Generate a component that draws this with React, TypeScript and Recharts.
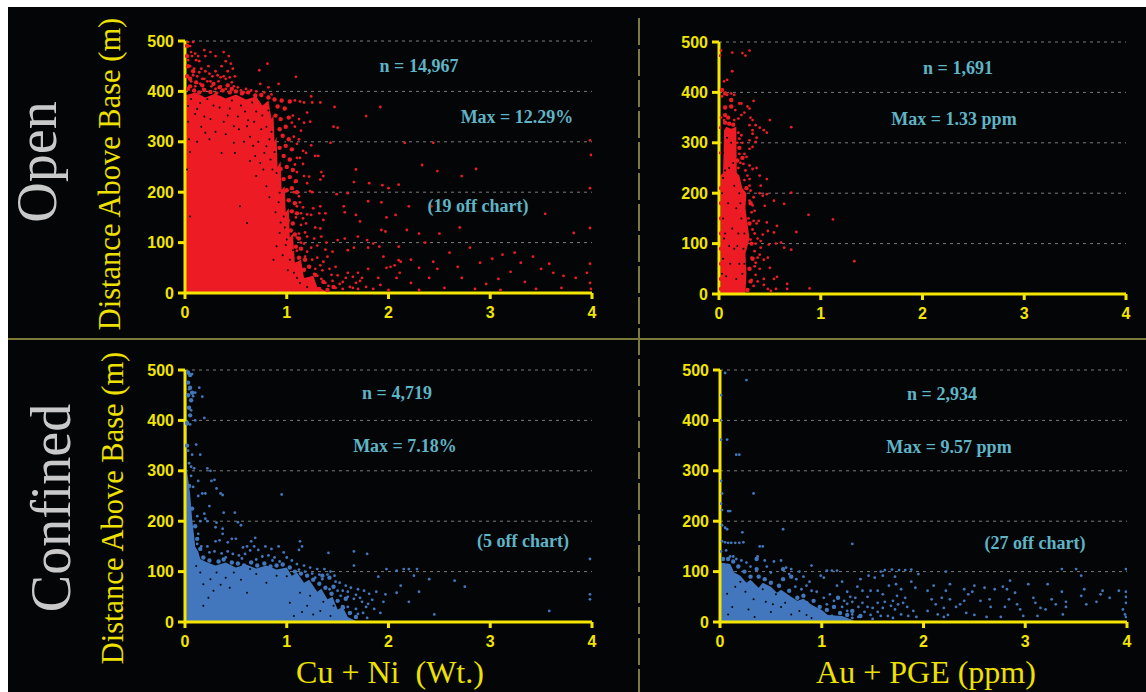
import { ComposedChart, Area, Scatter, XAxis, YAxis, CartesianGrid } from 'recharts';

type Pt = [number, number];

const xTicks = [0, 1, 2, 3, 4];
const yTicks = [0, 100, 200, 300, 400, 500];

// Solid part of each cloud (rough outline of the saturated area)
const openCuNiCore: Pt[] = [[0,392],[0.1,398],[0.2,388],[0.3,396],[0.4,386],[0.5,394],[0.6,384],[0.7,390],[0.76,372],[0.82,382],[0.85,345],[0.87,352],[0.88,300],[0.9,310],[0.91,250],[0.94,262],[0.95,205],[0.98,212],[0.99,160],[1.02,168],[1.03,110],[1.06,118],[1.08,60],[1.14,66],[1.17,30],[1.26,34],[1.3,12],[1.42,0]];
const openAuCore: Pt[] = [[0.015,235],[0.04,240],[0.05,325],[0.07,332],[0.12,328],[0.17,332],[0.175,240],[0.2,235],[0.23,210],[0.27,200],[0.26,170],[0.28,140],[0.3,110],[0.26,80],[0.27,40],[0.26,0]];
const confCuNiCore: Pt[] = [[0,500],[0.01,500],[0.02,300],[0.05,255],[0.07,205],[0.09,170],[0.1,150],[0.13,140],[0.15,125],[0.22,118],[0.3,112],[0.4,118],[0.5,108],[0.6,114],[0.7,106],[0.8,112],[0.9,104],[1,108],[1.05,92],[1.1,98],[1.17,78],[1.22,84],[1.3,60],[1.34,66],[1.4,45],[1.45,50],[1.5,25],[1.55,30],[1.6,10],[1.7,0]];
const confAuCore: Pt[] = [[0,118],[0.1,115],[0.14,98],[0.2,92],[0.26,78],[0.3,84],[0.38,68],[0.42,78],[0.5,70],[0.56,58],[0.6,64],[0.7,50],[0.76,42],[0.82,46],[0.9,34],[0.96,28],[1,24],[1.06,14],[1.2,12],[1.35,0]];

// Clumps where the dots nearly merge
const openCuNiDense: Pt[] = [
  [0.02,490],[0.02,470],[0.03,450],[0.02,430],[0.05,410],[0.03,405],[0.09,402],[0.14,398],[0.19,403],[0.25,399],[0.31,396],[0.37,402],[0.44,398],[0.5,400],[0.56,396],[0.62,398],[0.69,392],[0.75,393],[0.82,388],[0.88,384],[0.95,382],[1.03,380],
  [0.08,440],[0.05,425],[0.11,418],[0.17,412],[0.28,415],[0.34,408],[0.42,412],[0.46,405],
  [0.91,370],[0.98,366],[0.89,352],[0.94,345],[1.02,348],[0.93,325],[0.99,330],
  [0.96,312],[1.02,305],[0.93,288],[0.99,292],[1.05,285],[0.97,272],[1.03,265],
  [0.94,246],[1,250],[1.06,244],[0.97,226],[1.03,230],[1.09,222],[1,204],[1.05,208],[1.1,200],
  [1.02,184],[1.08,178],[1.05,162],[1.1,158],[1.01,144],[1.06,138],[1.04,124],[1.08,116],[1.12,108],
  [1.09,92],[1.14,88],[1.12,70],[1.18,66],[1.17,46],[1.22,52],[1.23,24],[1.28,36],[1.24,10],[1.32,8],[1.4,6],[1.36,22],[1.46,12],
];
const openCuNiGaps: Pt[] = [
  [0.33,394],[0.15,377],[0.34,368],[0.62,343],[0.48,331],[0.03,371],[0.04,305],[0.02,245],[0.49,278],[0.36,278],[0.2,318],[0.48,298],[0.61,331],[0.64,262],[0.69,272],[0.74,258],[0.77,245],[0.7,232],[0.61,139],[0.54,172],[0.05,152],[0.8,291],[0.84,265],[0.8,212],[0.9,238],[0.93,199],[0.97,152],[1,106],[1.03,66],[1.07,40],[0.93,119],[0.9,93],[0.87,66],[1.13,20],[0.1,355],[0.25,345],[0.42,352],[0.55,372],[0.7,360],[0.75,325],[0.58,300],[0.3,320],[0.12,300],[0.72,300],[0.85,320],[0.88,280],[0.95,260],[1,225],[0.92,180],[0.98,130],[0.22,385],[0.46,382],[0.66,378],[0.82,362],[0.9,342],[0.03,340],[0.05,280],[0.64,310],
  [0.06,385],[0.12,365],[0.19,350],[0.28,372],[0.38,340],[0.44,366],[0.52,350],[0.59,360],[0.68,340],[0.76,352],[0.8,330],[0.86,368],[0.16,330],[0.24,305],[0.4,315],[0.53,325],[0.67,292],[0.83,305],[0.78,278],[0.86,245],[0.83,190],[0.89,160],[0.94,140],[0.99,95],[0.96,75],[1.01,45],[1.1,30],[1.2,12],[1.06,85],[1.02,190],[0.97,300],
];
const openCuNiDots: Pt[] = [
  [0.05,490],[0.08,498],[0.07,470],[0.1,475],[0.14,460],[0.19,482],[0.2,470],[0.25,478],[0.3,470],[0.38,478],[0.43,470],[0.45,455],[0.4,460],[0.42,440],[0.47,445],[0.49,430],[0.05,450],[0.09,445],[0.12,430],[0.16,445],[0.2,440],[0.23,450],[0.27,430],[0.3,440],[0.33,420],[0.36,450],[0.38,430],[0.4,425],[0.46,418],[0.48,410],[0.06,420],[0.1,410],[0.15,415],[0.18,405],[0.22,420],[0.26,410],[0.3,405],[0.35,410],[0.4,405],[0.13,470],[0.17,425],[0.24,435],[0.52,408],[0.55,402],[0.6,405],[0.58,398],[0.73,442],[0.81,455],[0.74,415],[0.82,408],[0.92,415],[1.09,429],
  [0.03,498],[0.06,478],[0.11,462],[0.03,462],[0.08,432],[0.14,438],[0.19,425],[0.25,420],[0.32,432],[0.35,428],[0.44,428],[0.65,402],[0.7,400],[0.78,398],[0.85,394],
  [1.08,382],[1.13,380],[1.17,378],[1.24,390],[1.25,378],[1.2,358],[1.23,340],[1.17,338],[1.33,378],[1.47,369],[1.46,330],[1.5,328],[1.78,351],[1.43,298],[1.24,293],[1.12,345],[1.06,352],[1.08,330],[1.14,322],[1.07,310],[1.1,296],[1.16,282],[1.19,278],[1.13,268],[1.08,255],[1.16,256],[1.28,272],[1.31,272],[1.1,240],[1.17,232],[1.22,231],[1.34,240],[1.36,232],[1.33,225],[1.2,218],[1.08,220],[1.23,202],[1.25,200],[1.49,196],[1.6,198],[1.12,192],[1.1,172],[1.16,170],[1.26,168],[1.33,172],[1.38,158],[1.32,158],[1.09,150],[1.14,158],[1.2,156],[1.24,155],[1.36,145],[1.14,135],[1.19,138],[1.28,130],[1.33,128],[1.12,118],[1.2,112],[1.27,108],[1.34,112],[1.39,100],[1.17,98],[1.24,90],[1.3,94],[1.38,86],[1.45,82],[1.5,105],[1.57,108],[1.6,85],[1.66,90],[1.7,112],[1.8,90],[1.79,105],[1.85,98],[1.91,92],[1.2,82],[1.3,70],[1.36,62],[1.42,48],[1.48,52],[1.5,35],[1.35,45],[1.3,34],[1.45,24],[1.52,18],[1.58,30],[1.62,12],[1.68,20],[1.7,40],[1.74,30],[1.8,48],[1.78,12],[1.85,8],[1.92,16],[1.95,72],[1.98,50],[2.02,52],[2.06,55],[2.08,30],[2.12,62],[2.1,65],
  [1.14,100],[1.1,84],[1.18,72],[1.25,66],[1.22,52],[1.28,48],[1.33,55],[1.27,38],[1.34,28],[1.38,20],[1.44,36],[1.41,14],[1.48,10],[1.55,22],[1.6,40],[1.55,8],[1.65,32],[1.7,8],[1.72,24],[1.65,10],[1.4,72],[1.18,120],[1.1,110],[1.16,148],[1.13,180],[1.07,200],[1.1,268],[1.12,305],[1.05,338],
  [1.68,245],[1.66,220],[1.81,218],[1.94,214],[2,208],[1.8,182],[1.93,180],[1.56,172],[1.57,160],[1.68,155],[1.72,142],[1.98,150],[2.07,155],[1.93,125],[1.97,122],[2.16,298],[2.44,298],[1.92,369],[2.33,254],[2.48,242],[2.72,232],[2.86,246],[3.98,303],[3.99,274],[3.98,208],[3.54,157],[3.98,129],[3.82,119],[2.1,215],[2.2,172],[2.42,172],[2.18,125],[2.3,118],[2.7,130],[2.1,92],[2.36,100],[2.5,118],[2.22,66],[2.3,50],[2.11,40],[2.22,20],[2.4,30],[2.44,62],[2.48,48],[2.6,80],[2.68,52],[2.8,90],[2.72,30],[2.9,60],[3.02,68],[3.12,76],[3.24,80],[3.3,60],[3.42,72],[3.5,48],[3.58,58],[3.2,42],[3.08,28],[2.96,18],[3.34,22],[3.62,40],[3.72,34],[3.84,30],[3.95,40],[3.98,58],[3.98,20],[3.99,8],[3.7,10],[3.45,8],[3.1,6],[2.85,8],[2.55,10],[2.3,6],[2,6],[1.9,30],
];

const openAuDense: Pt[] = [
  [0.06,340],[0.1,338],[0.14,336],[0.06,355],[0.09,350],[0.06,370],[0.12,385],[0.12,372],[0.03,405],[0.06,398],[0.02,210],[0.02,180],[0.02,150],[0.02,120],[0.02,90],[0.02,60],[0.02,30],[0.02,10],[0.2,290],[0.18,265],[0.23,270],[0.27,210],[0.31,180],[0.3,140],[0.32,100],[0.33,70],[0.3,50],[0.31,25],[0.28,8],
];
const openAuGaps: Pt[] = [
  [0.04,280],[0.03,200],[0.04,150],[0.05,110],[0.04,70],[0.03,40],[0.06,120],[0.1,250],[0.14,260],[0.09,180],[0.13,130],[0.17,170],[0.19,120],[0.22,150],[0.2,60],[0.24,90],[0.17,30],[0.11,60],[0.07,35],[0.15,215],[0.06,245],[0.2,200],[0.23,40],[0.12,300],[0.08,310],[0.04,230],[0.25,120],[0.25,60],[0.1,95],[0.15,90],[0.21,180],[0.18,95],
];
const openAuDots: Pt[] = [
  [0.02,483],[0.01,473],[0.13,479],[0.23,478],[0.26,473],[0.3,483],[0.13,442],[0.05,422],[0.08,425],[0.03,392],[0.08,395],[0.12,398],[0.15,395],[0.34,383],[0.2,378],[0.22,378],[0.16,365],[0.28,372],[0.3,368],[0.25,360],[0.22,355],[0.19,348],[0.15,345],[0.05,345],[0.31,350],[0.33,345],[0.3,335],[0.33,325],[0.36,335],[0.4,330],[0.44,325],[0.47,320],[0.5,345],[0.71,331],[0.33,318],[0.37,310],[0.36,302],[0.3,305],[0.33,292],[0.3,288],[0.2,308],[0.23,300],[0.25,278],[0.27,272],[0.21,260],[0.3,255],[0.26,245],[0.33,248],[0.37,250],[0.4,235],[0.47,228],[0.3,228],[0.25,226],[0.41,215],[0.4,200],[0.43,195],[0.47,198],[0.71,201],[0.31,205],[0.34,192],[0.3,185],[0.33,176],[0.45,175],[0.54,185],[0.64,179],[0.32,162],[0.37,140],[0.39,145],[0.47,142],[0.29,150],[0.33,128],[0.43,118],[0.48,125],[0.54,122],[0.57,135],[0.31,108],[0.36,100],[0.41,105],[0.41,92],[0.49,98],[0.56,100],[0.61,102],[0.64,92],[0.71,88],[0.76,123],[0.88,157],[1.12,148],[1.33,65],[0.35,85],[0.4,78],[0.44,68],[0.48,72],[0.32,72],[0.36,62],[0.4,50],[0.36,38],[0.32,28],[0.34,16],[0.38,25],[0.44,30],[0.44,18],[0.5,52],[0.54,30],[0.57,34],[0.48,10],[0.51,6],[0.56,10],[0.67,20],[0.67,10],[0.89,11],[0.01,330],[0.02,350],[0.01,280],
  [0.19,320],[0.22,315],[0.18,300],[0.2,278],[0.24,258],[0.28,235],[0.19,250],[0.3,215],[0.35,165],[0.34,145],[0.35,120],[0.38,110],[0.38,72],[0.35,55],
];

const confCuNiDense: Pt[] = [
  [0.03,495],[0.05,490],[0.03,475],[0.05,465],[0.07,455],[0.03,450],[0.06,440],[0.04,425],[0.05,410],[0.02,395],[0.02,350],[0.04,270],[0.07,225],[0.1,190],[0.12,165],[0.15,145],[0.18,128],[0.24,122],[0.33,120],[0.38,124],[0.46,118],[0.52,116],[0.58,112],[0.65,118],[0.71,112],[0.78,116],[0.84,110],[0.9,112],[0.96,114],[1.03,108],[1.08,100],[1.14,96],[1.2,92],[1.26,84],[1.32,76],[1.38,68],[1.44,56],[1.5,42],[1.46,70],[1.55,30],[1.62,18],[1.58,46],[1.68,10],[1.35,92],[1.42,88],
];
const confCuNiGaps: Pt[] = [
  [0.18,75],[0.25,85],[0.44,68],[0.61,58],[0.23,48],[0.18,32],[0.8,78],[0.7,95],[1.07,12],[1.2,32],[1.26,15],[1.33,22],[1.43,12],[1.46,32],[1.03,38],[1.13,58],[1.23,52],[1,91],[0.31,98],[0.15,98],[0.11,111],[0.48,98],[0.64,105],[0.4,88],[0.9,92],[1.15,20],[1.36,40],[0.28,62],[0.35,74],[0.55,84],
];
const confCuNiDots: Pt[] = [
  [0.07,492],[0.04,462],[0.1,455],[0.14,465],[0.17,447],[0.08,448],[0.06,420],[0.19,405],[0.1,400],[0.02,392],[0.05,392],[0.11,352],[0.03,340],[0.07,332],[0.15,332],[0.04,315],[0.06,308],[0.09,305],[0.22,305],[0.25,300],[0.06,290],[0.13,280],[0.26,280],[0.29,282],[0.08,268],[0.17,255],[0.2,255],[0.31,265],[0.35,255],[0.37,252],[0.13,250],[0.95,253],[0.24,230],[0.19,215],[0.38,217],[0.49,217],[0.2,205],[0.22,200],[0.15,200],[0.12,210],[0.31,197],[0.52,198],[0.55,192],[0.3,188],[0.37,185],[0.37,175],[0.13,175],[0.12,155],[0.16,150],[0.22,150],[0.3,160],[0.34,162],[0.42,158],[0.46,165],[0.5,165],[0.69,167],[0.65,160],[0.57,148],[0.61,150],[0.64,142],[0.68,150],[0.72,143],[0.79,150],[0.85,145],[0.92,150],[0.97,138],[1.13,160],[1.15,150],[1.12,143],[1.41,137],[1.66,140],[1.79,135],[0.24,138],[0.29,140],[0.36,136],[0.42,140],[0.47,135],[0.53,132],[0.59,135],[0.76,130],[0.82,132],[0.88,128],[0.93,120],[1.0,128],[1.05,122],[1.1,115],[1.17,112],[1.23,108],[1.3,105],[1.37,105],[1.43,100],[1.47,92],[1.66,112],[1.98,105],[2.08,102],[2.2,105],[1.52,78],[1.58,72],[1.63,68],[1.7,65],[1.76,62],[1.81,56],[1.9,90],[2.08,58],[1.97,55],[1.95,40],[1.6,50],[1.66,46],[1.74,40],[1.8,36],[1.86,26],[1.68,26],[1.75,18],[1.92,18],[1.79,8],[1.63,18],[1.53,52],[1.56,28],[1.42,65],[1.35,85],[1.28,88],[2.12,72],[2.25,92],[2.4,85],[2.65,82],[2.75,70],[2.3,60],[2.2,40],[2.45,15],[3.58,22],[3.98,125],[3.98,55],[3.98,45],[2.15,105],[2.28,105],
  [0.4,128],[0.56,126],[0.7,124],[0.86,122],[1.12,104],[1.18,100],[1.25,96],[1.32,94],[1.4,94],[1.48,80],[1.55,62],[1.6,60],[1.68,54],[1.72,48],[1.78,30],[1.84,44],[1.88,60],[1.7,16],[1.6,30],[1.52,20],[1.5,62],
];

const confAuDense: Pt[] = [
  [0.03,125],[0.08,125],[0.13,120],[0.18,110],[0.24,100],[0.3,90],[0.36,125],[0.36,105],[0.38,90],[0.44,85],[0.5,78],[0.58,72],[0.62,105],[0.62,85],[0.68,62],[0.7,90],[0.76,48],[0.82,52],[0.85,38],[0.92,42],[0.98,30],[1.05,24],[1.12,30],[1.18,18],[1.16,48],[1.25,14],[1.3,22],[1.38,12],
];
const confAuGaps: Pt[] = [
  [0.07,56],[0.15,70],[0.25,60],[0.33,45],[0.28,25],[0.12,30],[0.45,40],[0.5,20],[0.6,30],[0.7,15],[0.42,65],[0.55,55],[0.64,38],[0.78,22],[0.85,14],[0.9,8],[0.08,15],[0.34,10],[0.52,35],[0.2,80],[0.38,72],
];
const confAuDots: Pt[] = [
  [0.05,494],[0.26,480],[0.01,450],[0,400],[0.01,362],[0.07,362],[0.16,332],[0.19,332],[0.01,280],[0.02,255],[0.33,255],[0.01,235],[0.02,222],[0.08,220],[0.1,220],[0.02,192],[0.05,187],[0.07,184],[0.62,184],[0.22,178],[0.02,160],[0.05,158],[0.08,157],[0.11,157],[0.15,157],[0.19,157],[0.23,158],[0.39,150],[0.42,150],[1.3,155],[0.01,140],[0.06,142],[0.13,130],[0.21,122],[0.3,110],[0.37,130],[0.44,122],[0.53,120],[0.6,122],[0.65,108],[0.7,105],[0.78,100],[0.9,112],[0.82,90],[0.88,80],[0.99,92],[1.02,88],[1.05,102],[1.1,102],[1.15,102],[0.74,70],[0.8,65],[1.2,80],[1.15,72],[1.25,60],[1.28,50],[1.3,40],[1.35,70],[1.36,30],[1.2,30],[1.25,22],[1.3,15],[1.36,10],[1.45,50],[1.4,38],[1.46,92],[1.38,85],[1.52,88],[1.58,100],[1.62,103],[1.69,104],[1.76,103],[1.82,103],[1.88,104],[1.95,95],[1.6,92],[1.72,90],[1.73,75],[1.66,72],[1.55,62],[1.48,62],[1.6,55],[1.7,42],[1.74,52],[1.78,65],[1.82,48],[1.88,80],[1.92,68],[1.5,28],[1.55,20],[1.6,28],[1.65,12],[1.72,25],[1.78,15],[1.84,30],[1.9,22],[1.93,10],[1.8,38],[1.48,14],[1.5,6],[1.7,8],[2.04,62],[2.1,72],[2.08,45],[2.12,35],[2.04,22],[2.14,15],[2.18,48],[2.2,28],[2.2,10],[2.24,14],[2.26,75],[2.22,62],[2.22,100],[2.26,45],[2.32,30],[2.36,35],[2.4,65],[2.44,55],[2.48,60],[2.5,72],[2.56,42],[2.4,42],[2.42,18],[2.5,14],[2.6,68],[2.65,45],[2.66,30],[2.7,65],[2.78,70],[2.82,65],[2.84,45],[2.8,30],[2.9,58],[2.92,35],[2.95,25],[2.98,12],[2.62,10],[2.76,10],[2.85,82],[3.03,75],[3.08,48],[3.1,38],[3.15,28],[3.12,12],[3.2,25],[3.22,75],[3.26,45],[3.3,35],[3.36,60],[3.37,15],[3.4,40],[3.4,30],[3.36,105],[3.5,105],[3.55,92],[3.55,52],[3.58,65],[3.6,35],[3.7,40],[3.74,55],[3.76,62],[3.83,48],[3.92,62],[3.96,25],[3.98,15],[3.99,105],[3.99,60],[3.99,50],[3.99,38],[3.99,10],
  [0.95,60],[1.02,48],[1.08,55],[1.12,42],[1.22,42],[1.1,12],[1.18,8],[1.3,8],[1.42,20],[1.45,30],[1.4,62],[1.25,36],[1.33,48],[1.05,35],[0.9,62],[0.85,72],[0.75,85],[0.68,95],[0.5,98],[0.46,110],[0.26,118],[0.16,125],[0.1,130],[1.55,38],[1.62,40],[1.68,32],[1.58,12],[1.75,35],[1.85,12],
];

const BG = '#030506';
const AXIS = '#f4e600';
const tickStyle = { fill: '#f0e400', fontSize: 16, fontWeight: 700, fontFamily: 'Liberation Sans' };

const toRows = (pts: Pt[]) => pts.map(([x, y]) => ({ x, y }));

function Panel({ left, top, core, dense, gaps, dots, color }: { left: number; top: number; core: Pt[]; dense: Pt[]; gaps: Pt[]; dots: Pt[]; color: string }) {
  return (
    <div style={{ position: 'absolute', left: left - 65, top: top - 10 }}>
      <ComposedChart width={490} height={296} margin={{ top: 10, right: 18, bottom: 0, left: 0 }}>
        <CartesianGrid vertical={false} stroke="#7c7c7c" strokeDasharray="3 4" />
        <XAxis dataKey="x" type="number" domain={[0, 4]} ticks={xTicks} interval={0} height={34} stroke={AXIS} strokeWidth={3} tickSize={6} tickMargin={8} tick={tickStyle} allowDataOverflow />
        <YAxis dataKey="y" type="number" domain={[0, 500]} ticks={yTicks} interval={0} width={65} stroke={AXIS} strokeWidth={3} tickSize={7} tickMargin={4} tick={tickStyle} allowDataOverflow />
        <Area data={toRows(core)} dataKey="y" type="linear" stroke="none" fill={color} fillOpacity={1} dot={false} activeDot={false} isAnimationActive={false} />
        <Scatter data={toRows(dense)} isAnimationActive={false} shape={(p: any) => <circle cx={p.cx} cy={p.cy} r={2.2} fill={color} />} />
        <Scatter data={toRows(gaps)} isAnimationActive={false} shape={(p: any) => <circle cx={p.cx} cy={p.cy} r={1} fill={BG} />} />
        <Scatter data={toRows(dots)} isAnimationActive={false} shape={(p: any) => <circle cx={p.cx} cy={p.cy} r={1.4} fill={color} />} />
      </ComposedChart>
    </div>
  );
}

const NOTE = { fill: '#5fb4c6', fontSize: 18, fontWeight: 700, fontFamily: 'Liberation Serif', textAnchor: 'middle' as const };
const YTITLE = { fill: '#eee000', fontSize: 30.5, fontFamily: 'Liberation Serif', textAnchor: 'middle' as const };
const XTITLE = { fill: '#eee000', fontSize: 32, fontFamily: 'Liberation Serif', textAnchor: 'middle' as const, style: { whiteSpace: 'pre' as const } };
const ROW = { fill: '#c9c9c9', fontSize: 56, fontFamily: 'Liberation Serif', textAnchor: 'middle' as const };

const notes: [string, number, number][] = [
  ['n = 14,967', 419, 72], ['Max = 12.29%', 517, 123], ['(19 off chart)', 478, 212],
  ['n = 1,691', 958, 74], ['Max = 1.33 ppm', 954, 125],
  ['n = 4,719', 397, 399], ['Max = 7.18%', 405, 452], ['(5 off chart)', 523, 547],
  ['n = 2,934', 942, 400], ['Max = 9.57 ppm', 949, 453], ['(27 off chart)', 1035, 549],
];

export default function App() {
  return (
    <div style={{ position: 'absolute', left: 0, top: 0, width: 1146, height: 692, background: '#fff', overflow: 'hidden' }}>
      <div style={{ position: 'absolute', left: 8, top: 7, width: 1138, height: 685, background: BG }} />
      <Panel left={185} top={41} core={openCuNiCore} dense={openCuNiDense} gaps={openCuNiGaps} dots={openCuNiDots} color="#ed1c24" />
      <Panel left={719} top={42} core={openAuCore} dense={openAuDense} gaps={openAuGaps} dots={openAuDots} color="#ed1c24" />
      <Panel left={185} top={370} core={confCuNiCore} dense={confCuNiDense} gaps={confCuNiGaps} dots={confCuNiDots} color="#4277bd" />
      <Panel left={720} top={370} core={confAuCore} dense={confAuDense} gaps={confAuGaps} dots={confAuDots} color="#4277bd" />
      <svg width={1146} height={692} style={{ position: 'absolute', left: 0, top: 0, pointerEvents: 'none' }}>
        <line x1={8} x2={1146} y1={339} y2={339} stroke="#7b7a3b" strokeWidth={2} />
        <line x1={639} x2={639} y1={18} y2={692} stroke="#7b7a3b" strokeWidth={2} strokeDasharray="27 4" />
        <text {...ROW} transform="translate(56,162) rotate(-90)">Open</text>
        <text {...ROW} transform="translate(70,508) rotate(-90)">Confined</text>
        <text {...YTITLE} transform="translate(120,174) rotate(-90)">Distance Above Base (m)</text>
        <text {...YTITLE} transform="translate(123,508) rotate(-90)">Distance Above Base (m)</text>
        <text {...XTITLE} x={390} y={683}>Cu + Ni  (Wt.)</text>
        <text {...XTITLE} x={926} y={683}>Au + PGE (ppm)</text>
        {notes.map(([t, x, y]) => <text key={t} {...NOTE} x={x} y={y}>{t}</text>)}
      </svg>
    </div>
  );
}
